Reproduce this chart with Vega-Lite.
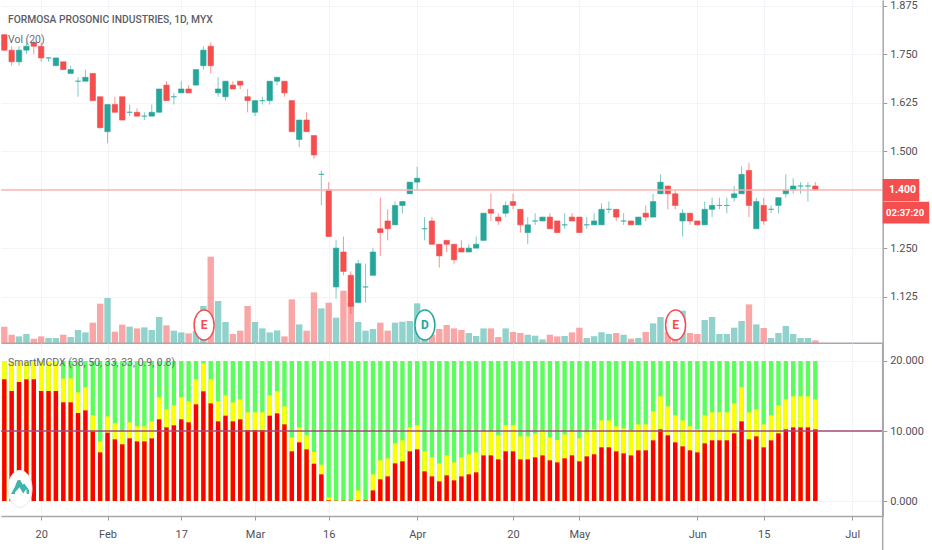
{
  "$schema": "https://vega.github.io/schema/vega-lite/v6.json",
  "padding": {"left": 0, "top": -1, "right": 0, "bottom": 0},
  "background": "#ffffff",
  "spacing": 0,
  "bounds": "flush",
  "config": {
    "view": {"stroke": null},
    "axis": {
      "title": null,
      "gridColor": "#f3f3f9",
      "gridWidth": 1,
      "domainColor": "#a8a8ac",
      "domainWidth": 1.5,
      "tickColor": "#9a9a9e",
      "tickSize": 4,
      "labelColor": "#50505a",
      "labelFont": "Roboto",
      "labelFontSize": 11,
      "labelPadding": 3
    },
    "text": {"font": "Roboto"}
  },
  "datasets": {
    "bars": [
      {"bar":0,"dir":"down","open":1.80,"high":1.80,"low":1.76,"close":1.76,"vol":16,"banker":17.38,"hot":20,"trend":20},
      {"bar":1,"dir":"down","open":1.76,"high":1.77,"low":1.72,"close":1.73,"vol":8,"banker":15.71,"hot":20,"trend":20},
      {"bar":2,"dir":"up","open":1.73,"high":1.77,"low":1.72,"close":1.76,"vol":6.3,"banker":17.0,"hot":20,"trend":20},
      {"bar":3,"dir":"up","open":1.76,"high":1.78,"low":1.75,"close":1.77,"vol":8.7,"banker":17.38,"hot":20,"trend":20},
      {"bar":4,"dir":"down","open":1.78,"high":1.785,"low":1.75,"close":1.77,"vol":4,"banker":17.38,"hot":20,"trend":20},
      {"bar":5,"dir":"down","open":1.77,"high":1.78,"low":1.73,"close":1.74,"vol":6.3,"banker":15.71,"hot":20,"trend":20},
      {"bar":6,"dir":"up","open":1.74,"high":1.74,"low":1.73,"close":1.74,"vol":4.7,"banker":15.71,"hot":20,"trend":20},
      {"bar":7,"dir":"up","open":1.72,"high":1.74,"low":1.72,"close":1.74,"vol":4.7,"banker":15.71,"hot":20,"trend":20},
      {"bar":8,"dir":"down","open":1.73,"high":1.73,"low":1.71,"close":1.71,"vol":8,"banker":14.10,"hot":17.48,"trend":20},
      {"bar":9,"dir":"up","open":1.70,"high":1.72,"low":1.70,"close":1.71,"vol":5.7,"banker":14.10,"hot":17.52,"trend":20},
      {"bar":10,"dir":"up","open":1.68,"high":1.69,"low":1.64,"close":1.68,"vol":12.7,"banker":12.57,"hot":15.52,"trend":20},
      {"bar":11,"dir":"up","open":1.68,"high":1.71,"low":1.68,"close":1.69,"vol":10.3,"banker":12.95,"hot":16.24,"trend":20},
      {"bar":12,"dir":"down","open":1.70,"high":1.70,"low":1.63,"close":1.63,"vol":20,"banker":9.95,"hot":12.24,"trend":20},
      {"bar":13,"dir":"down","open":1.64,"high":1.64,"low":1.56,"close":1.56,"vol":39,"banker":6.95,"hot":8.52,"trend":20},
      {"bar":14,"dir":"up","open":1.55,"high":1.62,"low":1.52,"close":1.62,"vol":44.7,"banker":9.76,"hot":12.10,"trend":20},
      {"bar":15,"dir":"down","open":1.62,"high":1.64,"low":1.60,"close":1.60,"vol":11,"banker":8.81,"hot":11.10,"trend":20},
      {"bar":16,"dir":"down","open":1.64,"high":1.64,"low":1.58,"close":1.58,"vol":18,"banker":8.10,"hot":9.95,"trend":20},
      {"bar":17,"dir":"up","open":1.60,"high":1.62,"low":1.59,"close":1.60,"vol":16,"banker":8.95,"hot":11.24,"trend":20},
      {"bar":18,"dir":"down","open":1.60,"high":1.61,"low":1.59,"close":1.59,"vol":14.3,"banker":8.52,"hot":10.67,"trend":20},
      {"bar":19,"dir":"up","open":1.59,"high":1.60,"low":1.58,"close":1.59,"vol":15.3,"banker":8.52,"hot":10.67,"trend":20},
      {"bar":20,"dir":"up","open":1.59,"high":1.62,"low":1.59,"close":1.60,"vol":12.7,"banker":8.95,"hot":11.38,"trend":20},
      {"bar":21,"dir":"up","open":1.60,"high":1.66,"low":1.60,"close":1.66,"vol":25.7,"banker":11.67,"hot":14.81,"trend":20},
      {"bar":22,"dir":"down","open":1.67,"high":1.68,"low":1.63,"close":1.63,"vol":17.3,"banker":10.52,"hot":13.10,"trend":20},
      {"bar":23,"dir":"up","open":1.64,"high":1.65,"low":1.62,"close":1.64,"vol":12,"banker":10.81,"hot":13.67,"trend":20},
      {"bar":24,"dir":"up","open":1.65,"high":1.68,"low":1.65,"close":1.66,"vol":10.3,"banker":11.67,"hot":14.81,"trend":20},
      {"bar":25,"dir":"down","open":1.66,"high":1.67,"low":1.65,"close":1.65,"vol":9.3,"banker":11.24,"hot":14.24,"trend":20},
      {"bar":26,"dir":"up","open":1.67,"high":1.71,"low":1.67,"close":1.71,"vol":11.7,"banker":13.81,"hot":17.38,"trend":20},
      {"bar":27,"dir":"up","open":1.72,"high":1.77,"low":1.71,"close":1.76,"vol":36.7,"banker":15.67,"hot":19.67,"trend":20},
      {"bar":28,"dir":"down","open":1.77,"high":1.78,"low":1.70,"close":1.72,"vol":86,"banker":13.95,"hot":17.38,"trend":20},
      {"bar":29,"dir":"up","open":1.65,"high":1.69,"low":1.64,"close":1.66,"vol":41.7,"banker":11.38,"hot":14.24,"trend":20},
      {"bar":30,"dir":"up","open":1.64,"high":1.68,"low":1.63,"close":1.68,"vol":20.7,"banker":12.19,"hot":15.10,"trend":20},
      {"bar":31,"dir":"down","open":1.67,"high":1.68,"low":1.66,"close":1.66,"vol":8.7,"banker":11.38,"hot":14.10,"trend":20},
      {"bar":32,"dir":"down","open":1.68,"high":1.68,"low":1.66,"close":1.67,"vol":12,"banker":11.67,"hot":14.52,"trend":20},
      {"bar":33,"dir":"down","open":1.64,"high":1.66,"low":1.60,"close":1.63,"vol":36.7,"banker":10.10,"hot":12.67,"trend":20},
      {"bar":34,"dir":"up","open":1.60,"high":1.63,"low":1.59,"close":1.63,"vol":20.7,"banker":10.10,"hot":12.67,"trend":20},
      {"bar":35,"dir":"up","open":1.63,"high":1.64,"low":1.62,"close":1.63,"vol":14.3,"banker":10.10,"hot":12.67,"trend":20},
      {"bar":36,"dir":"up","open":1.63,"high":1.68,"low":1.62,"close":1.68,"vol":10.3,"banker":12.19,"hot":15.10,"trend":20},
      {"bar":37,"dir":"up","open":1.68,"high":1.69,"low":1.67,"close":1.69,"vol":12.3,"banker":12.52,"hot":15.67,"trend":20},
      {"bar":38,"dir":"down","open":1.68,"high":1.68,"low":1.64,"close":1.65,"vol":6.3,"banker":10.95,"hot":13.52,"trend":20},
      {"bar":39,"dir":"down","open":1.63,"high":1.63,"low":1.55,"close":1.55,"vol":43.3,"banker":7.10,"hot":9.10,"trend":20},
      {"bar":40,"dir":"up","open":1.53,"high":1.58,"low":1.51,"close":1.58,"vol":18.3,"banker":8.38,"hot":10.52,"trend":20},
      {"bar":41,"dir":"down","open":1.58,"high":1.60,"low":1.55,"close":1.55,"vol":12,"banker":7.38,"hot":9.38,"trend":20},
      {"bar":42,"dir":"down","open":1.54,"high":1.54,"low":1.48,"close":1.49,"vol":50.3,"banker":5.33,"hot":7.0,"trend":20},
      {"bar":43,"dir":"up","open":1.44,"high":1.45,"low":1.36,"close":1.44,"vol":34.3,"banker":3.81,"hot":5.19,"trend":20},
      {"bar":44,"dir":"down","open":1.40,"high":1.42,"low":1.28,"close":1.28,"vol":40,"banker":0.1,"hot":0.52,"trend":20},
      {"bar":45,"dir":"up","open":1.15,"high":1.27,"low":1.12,"close":1.25,"vol":25,"banker":0.05,"hot":0.05,"trend":20},
      {"bar":46,"dir":"down","open":1.24,"high":1.28,"low":1.18,"close":1.19,"vol":52,"banker":0.05,"hot":0.05,"trend":20},
      {"bar":47,"dir":"down","open":1.18,"high":1.19,"low":1.08,"close":1.10,"vol":40,"banker":0.05,"hot":0.05,"trend":20},
      {"bar":48,"dir":"up","open":1.11,"high":1.22,"low":1.11,"close":1.21,"vol":20.7,"banker":0.1,"hot":1.52,"trend":20},
      {"bar":49,"dir":"up","open":1.15,"high":1.21,"low":1.11,"close":1.15,"vol":12,"banker":0.1,"hot":0.1,"trend":20},
      {"bar":50,"dir":"up","open":1.18,"high":1.25,"low":1.18,"close":1.24,"vol":13.7,"banker":1.52,"hot":3.81,"trend":20},
      {"bar":51,"dir":"down","open":1.30,"high":1.38,"low":1.23,"close":1.29,"vol":20,"banker":3.10,"hot":5.81,"trend":20},
      {"bar":52,"dir":"down","open":1.32,"high":1.35,"low":1.27,"close":1.30,"vol":12,"banker":3.52,"hot":6.10,"trend":20},
      {"bar":53,"dir":"up","open":1.31,"high":1.37,"low":1.31,"close":1.36,"vol":20,"banker":5.38,"hot":8.24,"trend":20},
      {"bar":54,"dir":"up","open":1.36,"high":1.37,"low":1.34,"close":1.37,"vol":21,"banker":5.67,"hot":8.67,"trend":20},
      {"bar":55,"dir":"up","open":1.39,"high":1.42,"low":1.39,"close":1.42,"vol":21.7,"banker":7.10,"hot":10.52,"trend":20},
      {"bar":56,"dir":"up","open":1.42,"high":1.46,"low":1.40,"close":1.43,"vol":39.3,"banker":7.38,"hot":10.81,"trend":20},
      {"bar":57,"dir":"up","open":1.30,"high":1.33,"low":1.27,"close":1.30,"vol":14,"banker":4.24,"hot":7.10,"trend":20},
      {"bar":58,"dir":"down","open":1.32,"high":1.33,"low":1.26,"close":1.26,"vol":8,"banker":3.52,"hot":6.24,"trend":20},
      {"bar":59,"dir":"down","open":1.26,"high":1.26,"low":1.20,"close":1.23,"vol":13.7,"banker":2.81,"hot":5.38,"trend":20},
      {"bar":60,"dir":"down","open":1.27,"high":1.27,"low":1.24,"close":1.26,"vol":17.7,"banker":3.67,"hot":6.52,"trend":20},
      {"bar":61,"dir":"down","open":1.26,"high":1.26,"low":1.21,"close":1.22,"vol":14.3,"banker":2.95,"hot":5.52,"trend":20},
      {"bar":62,"dir":"down","open":1.25,"high":1.27,"low":1.24,"close":1.24,"vol":12.7,"banker":3.52,"hot":6.24,"trend":20},
      {"bar":63,"dir":"up","open":1.24,"high":1.26,"low":1.24,"close":1.25,"vol":9.7,"banker":3.81,"hot":6.67,"trend":20},
      {"bar":64,"dir":"up","open":1.25,"high":1.28,"low":1.25,"close":1.26,"vol":6.7,"banker":4.10,"hot":6.95,"trend":20},
      {"bar":65,"dir":"up","open":1.27,"high":1.34,"low":1.27,"close":1.34,"vol":14.3,"banker":6.52,"hot":9.95,"trend":20},
      {"bar":66,"dir":"down","open":1.35,"high":1.39,"low":1.32,"close":1.34,"vol":14.3,"banker":6.52,"hot":9.95,"trend":20},
      {"bar":67,"dir":"down","open":1.33,"high":1.34,"low":1.31,"close":1.32,"vol":5.7,"banker":5.95,"hot":9.38,"trend":20},
      {"bar":68,"dir":"up","open":1.34,"high":1.37,"low":1.33,"close":1.36,"vol":14.3,"banker":7.10,"hot":10.81,"trend":20},
      {"bar":69,"dir":"down","open":1.37,"high":1.39,"low":1.35,"close":1.36,"vol":10.7,"banker":7.10,"hot":10.81,"trend":20},
      {"bar":70,"dir":"down","open":1.35,"high":1.35,"low":1.29,"close":1.31,"vol":9.7,"banker":5.95,"hot":9.24,"trend":20},
      {"bar":71,"dir":"up","open":1.29,"high":1.33,"low":1.26,"close":1.31,"vol":8,"banker":5.95,"hot":9.24,"trend":20},
      {"bar":72,"dir":"up","open":1.32,"high":1.34,"low":1.31,"close":1.32,"vol":7,"banker":6.24,"hot":9.67,"trend":20},
      {"bar":73,"dir":"up","open":1.32,"high":1.33,"low":1.32,"close":1.33,"vol":3.3,"banker":6.52,"hot":9.95,"trend":20},
      {"bar":74,"dir":"down","open":1.33,"high":1.34,"low":1.30,"close":1.30,"vol":8,"banker":5.81,"hot":9.10,"trend":20},
      {"bar":75,"dir":"down","open":1.32,"high":1.32,"low":1.29,"close":1.29,"vol":6.3,"banker":5.52,"hot":8.71,"trend":20},
      {"bar":76,"dir":"up","open":1.31,"high":1.34,"low":1.30,"close":1.31,"vol":6.7,"banker":6.10,"hot":9.52,"trend":20},
      {"bar":77,"dir":"down","open":1.33,"high":1.34,"low":1.32,"close":1.32,"vol":10.3,"banker":6.52,"hot":9.95,"trend":20},
      {"bar":78,"dir":"down","open":1.33,"high":1.33,"low":1.29,"close":1.29,"vol":15,"banker":5.67,"hot":8.95,"trend":20},
      {"bar":79,"dir":"up","open":1.31,"high":1.33,"low":1.30,"close":1.31,"vol":4.7,"banker":6.38,"hot":9.81,"trend":20},
      {"bar":80,"dir":"up","open":1.31,"high":1.34,"low":1.31,"close":1.32,"vol":6.5,"banker":6.67,"hot":10.24,"trend":20},
      {"bar":81,"dir":"up","open":1.31,"high":1.365,"low":1.31,"close":1.35,"vol":10.5,"banker":7.67,"hot":11.52,"trend":20},
      {"bar":82,"dir":"up","open":1.35,"high":1.37,"low":1.34,"close":1.35,"vol":8.7,"banker":7.67,"hot":11.52,"trend":20},
      {"bar":83,"dir":"down","open":1.35,"high":1.35,"low":1.32,"close":1.33,"vol":9.7,"banker":7.10,"hot":10.67,"trend":20},
      {"bar":84,"dir":"up","open":1.32,"high":1.34,"low":1.31,"close":1.32,"vol":8,"banker":6.81,"hot":10.38,"trend":20},
      {"bar":85,"dir":"down","open":1.32,"high":1.32,"low":1.31,"close":1.31,"vol":4,"banker":6.52,"hot":10.10,"trend":20},
      {"bar":86,"dir":"up","open":1.31,"high":1.33,"low":1.31,"close":1.33,"vol":4.7,"banker":7.24,"hot":10.95,"trend":20},
      {"bar":87,"dir":"down","open":1.34,"high":1.36,"low":1.32,"close":1.33,"vol":10.7,"banker":7.24,"hot":10.95,"trend":20},
      {"bar":88,"dir":"up","open":1.33,"high":1.39,"low":1.33,"close":1.37,"vol":19.3,"banker":8.67,"hot":12.81,"trend":20},
      {"bar":89,"dir":"up","open":1.39,"high":1.44,"low":1.39,"close":1.42,"vol":25.7,"banker":10.24,"hot":14.95,"trend":20},
      {"bar":90,"dir":"down","open":1.41,"high":1.41,"low":1.35,"close":1.39,"vol":11,"banker":9.38,"hot":13.52,"trend":20},
      {"bar":91,"dir":"down","open":1.39,"high":1.40,"low":1.35,"close":1.36,"vol":6,"banker":8.38,"hot":12.24,"trend":20},
      {"bar":92,"dir":"up","open":1.32,"high":1.35,"low":1.28,"close":1.34,"vol":32,"banker":7.81,"hot":11.52,"trend":20},
      {"bar":93,"dir":"down","open":1.34,"high":1.34,"low":1.31,"close":1.32,"vol":9.7,"banker":7.24,"hot":10.67,"trend":20},
      {"bar":94,"dir":"down","open":1.32,"high":1.32,"low":1.31,"close":1.31,"vol":8.7,"banker":6.95,"hot":10.24,"trend":20},
      {"bar":95,"dir":"up","open":1.31,"high":1.37,"low":1.31,"close":1.35,"vol":22.7,"banker":8.24,"hot":12.24,"trend":20},
      {"bar":96,"dir":"up","open":1.35,"high":1.38,"low":1.33,"close":1.36,"vol":25.7,"banker":8.67,"hot":12.67,"trend":20},
      {"bar":97,"dir":"up","open":1.36,"high":1.38,"low":1.35,"close":1.36,"vol":8.7,"banker":8.67,"hot":12.67,"trend":20},
      {"bar":98,"dir":"up","open":1.36,"high":1.38,"low":1.34,"close":1.36,"vol":8.7,"banker":8.67,"hot":12.67,"trend":20},
      {"bar":99,"dir":"up","open":1.38,"high":1.41,"low":1.37,"close":1.39,"vol":15,"banker":9.67,"hot":13.95,"trend":20},
      {"bar":100,"dir":"up","open":1.39,"high":1.46,"low":1.39,"close":1.44,"vol":21.7,"banker":11.38,"hot":16.24,"trend":20},
      {"bar":101,"dir":"down","open":1.45,"high":1.47,"low":1.33,"close":1.36,"vol":38.3,"banker":8.81,"hot":12.67,"trend":20},
      {"bar":102,"dir":"up","open":1.30,"high":1.38,"low":1.30,"close":1.37,"vol":18.3,"banker":9.24,"hot":13.10,"trend":20},
      {"bar":103,"dir":"down","open":1.36,"high":1.38,"low":1.31,"close":1.32,"vol":14.7,"banker":7.67,"hot":10.95,"trend":20},
      {"bar":104,"dir":"up","open":1.35,"high":1.36,"low":1.34,"close":1.35,"vol":4.7,"banker":8.67,"hot":12.24,"trend":20},
      {"bar":105,"dir":"up","open":1.36,"high":1.38,"low":1.34,"close":1.38,"vol":9.7,"banker":9.67,"hot":13.67,"trend":20},
      {"bar":106,"dir":"up","open":1.39,"high":1.44,"low":1.38,"close":1.40,"vol":16.7,"banker":10.24,"hot":14.52,"trend":20},
      {"bar":107,"dir":"up","open":1.40,"high":1.43,"low":1.39,"close":1.41,"vol":8.7,"banker":10.52,"hot":14.95,"trend":20},
      {"bar":108,"dir":"up","open":1.41,"high":1.42,"low":1.39,"close":1.41,"vol":4.7,"banker":10.52,"hot":14.95,"trend":20},
      {"bar":109,"dir":"up","open":1.41,"high":1.42,"low":1.37,"close":1.41,"vol":4.7,"banker":10.52,"hot":14.95,"trend":20},
      {"bar":110,"dir":"down","open":1.41,"high":1.42,"low":1.40,"close":1.40,"vol":2.3,"banker":10.24,"hot":14.52,"trend":20}
    ],
    "events": [
      {"bar":27.1,"label":"E","dir":"down"},
      {"bar":57.05,"label":"D","dir":"up"},
      {"bar":91.05,"label":"E","dir":"down"}
    ]
  },
  "vconcat": [
    {
      "width": 881.7,
      "height": 342.7,
      "resolve": {"scale": {"y": "independent"}},
      "layer": [
        {
          "data": {"name": "bars"},
          "mark": {"type": "bar", "orient": "vertical", "size": 6.4, "opacity": 0.5},
          "encoding": {
            "x": {"field": "bar", "type": "quantitative", "scale": {"domain": [-0.4476, 119.14], "nice": false, "zero": false, "padding": 0}, "axis": {"values": [5, 14, 24, 34, 44, 56, 69, 78, 94, 103, 115], "labels": false, "ticks": false, "grid": true}},
            "y": {"field": "vol", "type": "quantitative", "scale": {"domain": [0, 342.7], "padding": 0}, "axis": null},
            "fill": {"field": "dir", "type": "nominal", "scale": {"domain": ["up", "down"], "range": ["#26a69a", "#f44e4e"]}, "legend": null}
          }
        },
        {
          "layer": [
            {
              "data": {"name": "bars"},
              "mark": {"type": "rule", "strokeWidth": 1, "opacity": 0.6},
              "encoding": {
                "x": {"field": "bar", "type": "quantitative"},
                "y": {"field": "low", "type": "quantitative", "scale": {"domain": [1.0064, 1.8892], "nice": false, "zero": false, "padding": 0}, "axis": {"orient": "right", "values": [1.125, 1.25, 1.5, 1.625, 1.75, 1.875], "format": ".3f", "grid": true, "domain": true}},
                "y2": {"field": "high"},
                "stroke": {"field": "dir", "type": "nominal", "scale": {"domain": ["up", "down"], "range": ["#26a69a", "#f44e4e"]}, "legend": null}
              }
            },
            {
              "data": {"name": "bars"},
              "mark": {"type": "bar", "orient": "vertical", "size": 5.4, "strokeWidth": 0.6},
              "encoding": {
                "x": {"field": "bar", "type": "quantitative"},
                "y": {"field": "open", "type": "quantitative"},
                "y2": {"field": "close"},
                "fill": {"field": "dir", "type": "nominal", "scale": {"domain": ["up", "down"], "range": ["#26a69a", "#f44e4e"]}, "legend": null},
                "stroke": {"field": "dir", "type": "nominal", "scale": {"domain": ["up", "down"], "range": ["#26a69a", "#f44e4e"]}, "legend": null}
              }
            },
            {
              "data": {"values": [{"label": "last"}]},
              "mark": {"type": "rule", "stroke": "#f8b4b4", "strokeWidth": 1.5},
              "encoding": {"y": {"datum": 1.4, "type": "quantitative"}}
            },
            {
              "data": {"name": "events"},
              "mark": {"type": "point", "filled": true, "fill": "#ffffff", "opacity": 1, "strokeWidth": 1.5, "size": 900, "shape": "M0,-1 A0.667,1 0 1 1 0,1 A0.667,1 0 1 1 0,-1 Z"},
              "encoding": {
                "x": {"field": "bar", "type": "quantitative"},
                "y": {"datum": 1.052, "type": "quantitative"},
                "stroke": {"field": "dir", "type": "nominal", "scale": {"domain": ["up", "down"], "range": ["#26a69a", "#f44e4e"]}, "legend": null}
              }
            },
            {
              "data": {"name": "events"},
              "mark": {"type": "text", "fontSize": 12, "fontWeight": "bold"},
              "encoding": {
                "x": {"field": "bar", "type": "quantitative"},
                "y": {"datum": 1.052, "type": "quantitative"},
                "text": {"field": "label"},
                "fill": {"field": "dir", "type": "nominal", "scale": {"domain": ["up", "down"], "range": ["#26a69a", "#f44e4e"]}, "legend": null}
              }
            },
            {
              "data": {"values": [{"label": "FORMOSA PROSONIC INDUSTRIES, 1D, MYX"}]},
              "mark": {"type": "text", "align": "left", "fontSize": 10.3, "fontWeight": 500, "color": "#5d5d66"},
              "encoding": {
                "x": {"datum": 0.5, "type": "quantitative"},
                "y": {"datum": 1.8376, "type": "quantitative"},
                "text": {"field": "label"}
              }
            },
            {
              "data": {"values": [{"label": "Vol (20)"}]},
              "mark": {"type": "text", "align": "left", "fontSize": 10.5, "color": "#6a6a72"},
              "encoding": {
                "x": {"datum": 0.5, "type": "quantitative"},
                "y": {"datum": 1.786, "type": "quantitative"},
                "text": {"field": "label"}
              }
            },
            {
              "data": {"values": [{"label": "price"}]},
              "mark": {"type": "rect", "color": "#f44e4e"},
              "encoding": {
                "x": {"datum": 119.14, "type": "quantitative"},
                "x2": {"datum": 124.1},
                "y": {"datum": 1.4278, "type": "quantitative"},
                "y2": {"datum": 1.3711}
              }
            },
            {
              "data": {"values": [{"label": "timer"}]},
              "mark": {"type": "rect", "color": "#f44e4e"},
              "encoding": {
                "x": {"datum": 119.14, "type": "quantitative"},
                "x2": {"datum": 125.45},
                "y": {"datum": 1.3695, "type": "quantitative"},
                "y2": {"datum": 1.3137}
              }
            },
            {
              "data": {"values": [{"label": "1.400"}]},
              "mark": {"type": "text", "align": "left", "fontSize": 10.5, "fontWeight": "bold", "color": "#ffffff"},
              "encoding": {
                "x": {"datum": 120, "type": "quantitative"},
                "y": {"datum": 1.4, "type": "quantitative"},
                "text": {"field": "label"}
              }
            },
            {
              "data": {"values": [{"label": "02:37:20"}]},
              "mark": {"type": "text", "align": "left", "fontSize": 9.5, "fontWeight": "bold", "color": "#ffffff"},
              "encoding": {
                "x": {"datum": 119.6, "type": "quantitative"},
                "y": {"datum": 1.3415, "type": "quantitative"},
                "text": {"field": "label"}
              }
            }
          ]
        }
      ]
    },
    {
      "width": 881.7,
      "height": 173,
      "data": {"name": "bars"},
      "layer": [
        {
          "mark": {"type": "bar", "orient": "vertical", "size": 4.4, "color": "#5bff5b"},
          "encoding": {
            "x": {"field": "bar", "type": "quantitative", "scale": {"domain": [-0.4476, 119.14], "nice": false, "zero": false, "padding": 0}, "axis": {"values": [5, 14, 24, 34, 44, 56, 69, 78, 94, 103, 115], "grid": true, "labelPadding": 9, "labelFontSize": 11, "labelExpr": "{'5':'20','14':'Feb','24':'17','34':'Mar','44':'16','56':'Apr','69':'20','78':'May','94':'Jun','103':'15','115':'Jul'}[datum.value]"}},
            "y": {"field": "trend", "type": "quantitative", "scale": {"domain": [-2.14, 22.57], "nice": false, "zero": false, "padding": 0}, "axis": {"orient": "right", "values": [0, 10, 20], "format": ".3f", "grid": true}}
          }
        },
        {
          "mark": {"type": "bar", "orient": "vertical", "size": 4.4, "color": "#ffff00"},
          "encoding": {
            "x": {"field": "bar", "type": "quantitative"},
            "y": {"field": "hot", "type": "quantitative"}
          }
        },
        {
          "mark": {"type": "bar", "orient": "vertical", "size": 4.4, "color": "#ff0000"},
          "encoding": {
            "x": {"field": "bar", "type": "quantitative"},
            "y": {"field": "banker", "type": "quantitative"}
          }
        },
        {
          "data": {"values": [{"label": "mid"}]},
          "mark": {"type": "rule", "stroke": "#a34d78", "strokeWidth": 1.5},
          "encoding": {"y": {"datum": 10, "type": "quantitative"}}
        },
        {
          "data": {"values": [{"label": "edge"}]},
          "mark": {"type": "rule", "stroke": "#a8a8ac", "strokeWidth": 1.5},
          "encoding": {
            "x": {"datum": 119.14, "type": "quantitative"},
            "y": {"datum": -7.04, "type": "quantitative"},
            "y2": {"datum": 22.57}
          }
        },
        {
          "data": {"values": [{"label": "SmartMCDX (38, 50, 33, 33, 0.9, 0.8)"}]},
          "mark": {"type": "text", "align": "left", "fontSize": 10.5, "color": "#6a6a72"},
          "encoding": {
            "x": {"datum": 0.5, "type": "quantitative"},
            "y": {"datum": 19.67, "type": "quantitative"},
            "text": {"field": "label"}
          }
        },
        {
          "data": {"values": [{"label": "logo"}]},
          "mark": {"type": "point", "filled": true, "fill": "#ffffff", "opacity": 1, "stroke": "#e8e8ea", "strokeWidth": 1, "size": 1369, "shape": "M0,-1 A0.65,1 0 1 1 0,1 A0.65,1 0 1 1 0,-1 Z"},
          "encoding": {
            "x": {"datum": 2.13, "type": "quantitative"},
            "y": {"datum": 1.74, "type": "quantitative"}
          }
        },
        {
          "data": {"values": [{"label": "logo"}]},
          "mark": {"type": "point", "filled": true, "color": "#3fb3ac", "opacity": 1, "size": 324, "shape": "M-1,0.75 L-0.55,-0.1 L-0.3,-0.75 L0,-0.85 L0.3,-0.3 L0.5,-0.4 L1,0.3 L1,0.75 L0.75,0.75 L0.7,0.2 L0.35,0.7 L-0.05,0 L-0.55,0.55 L-0.55,0.75 Z"},
          "encoding": {
            "x": {"datum": 2.13, "type": "quantitative"},
            "y": {"datum": 1.96, "type": "quantitative"}
          }
        }
      ]
    }
  ]
}
